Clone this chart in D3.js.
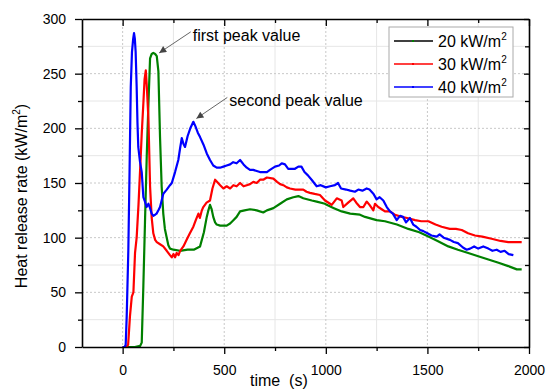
<!DOCTYPE html>
<html>
<head>
<meta charset="utf-8">
<script src="https://cdn.jsdelivr.net/npm/d3@7"></script>
<style>
  body { margin: 0; background: #fff; }
  svg { display: block; font-family: "Liberation Sans", Arial, sans-serif; }
</style>
</head>
<body>
<div id="chart"></div>
<script>
// heat release rate curves, [time (s), HRR (kW/m2)]
const hrr20 = [[0,0],[30,0],[60,0],[86,1],[94,4],[102,56],[110,114],[119,177],[127,223],[135,264],[143,268],[151,269],[160,268],[168,266],[176,252],[184,192],[192,147],[200,122],[208,108],[217,100],[225,93],[233,90],[250,89],[282,88],[320,89],[350,89],[381,92],[400,105],[414,119],[422,125],[430,130],[438,126],[446,119],[455,114],[463,112],[480,111],[496,111],[512,111],[529,113],[545,116],[561,119],[578,124],[600,125],[627,126],[660,125],[692,123],[710,125],[742,127],[775,131],[808,135],[840,137],[865,138],[889,136],[931,134],[955,133],[996,131],[1004,130],[1040,127],[1078,124],[1120,122],[1168,121],[1193,119],[1250,116],[1291,115],[1350,112],[1406,108],[1460,105],[1505,101],[1550,97],[1603,92],[1650,89],[1701,86],[1750,83],[1800,80],[1850,77],[1898,74],[1940,71],[1964,71]];

const hrr30 = [[0,0],[18,0],[27,2],[36,28],[45,46],[53,50],[61,86],[69,100],[78,130],[86,162],[94,195],[102,223],[108,245],[114,253],[120,235],[127,208],[135,147],[143,118],[151,104],[160,98],[168,96],[184,94],[200,92],[217,88],[233,84],[242,82],[250,85],[258,82],[266,86],[275,84],[283,88],[299,92],[315,98],[331,104],[348,110],[360,116],[373,122],[380,118],[390,125],[397,128],[413,132],[430,134],[442,145],[455,153],[470,150],[480,148],[496,145],[512,147],[529,145],[545,148],[561,147],[578,150],[595,147],[611,148],[627,149],[643,151],[660,150],[676,153],[692,153],[710,155],[742,154],[760,151],[775,149],[791,148],[808,146],[824,145],[850,144],[889,144],[905,142],[922,141],[945,140],[971,139],[996,134],[1021,131],[1029,130],[1054,136],[1078,134],[1086,128],[1110,132],[1135,136],[1150,132],[1168,128],[1185,128],[1201,133],[1215,130],[1234,125],[1242,131],[1258,128],[1275,126],[1291,124],[1315,124],[1340,121],[1373,119],[1400,118],[1439,116],[1470,115],[1505,115],[1540,112],[1570,110],[1610,108],[1640,108],[1669,107],[1700,104],[1734,102],[1770,101],[1816,99],[1860,97],[1898,96],[1930,96],[1964,96]];

const hrr40 = [[0,0],[10,0],[15,2],[20,28],[28,88],[34,160],[40,238],[46,270],[52,282],[56,287],[60,282],[64,270],[69,238],[73,205],[77,183],[85,170],[94,160],[102,137],[110,133],[118,128],[127,131],[135,127],[143,122],[151,120],[160,121],[167,122],[176,125],[184,128],[192,134],[200,140],[217,144],[233,148],[242,150],[258,160],[274,171],[283,182],[291,191],[299,186],[307,183],[320,193],[333,200],[348,206],[358,202],[370,196],[381,192],[398,185],[414,177],[430,171],[446,166],[463,164],[479,164],[496,165],[512,166],[529,167],[544,169],[561,168],[578,171],[595,167],[611,164],[627,162],[643,162],[660,161],[676,160],[692,160],[710,160],[725,162],[750,165],[770,166],[783,168],[799,167],[815,163],[832,163],[848,163],[865,165],[880,165],[895,160],[912,157],[930,153],[955,147],[975,148],[1000,146],[1021,147],[1045,148],[1060,150],[1075,145],[1100,144],[1120,143],[1143,142],[1160,144],[1180,143],[1201,145],[1215,144],[1235,140],[1250,135],[1265,137],[1283,134],[1300,128],[1316,124],[1330,122],[1349,116],[1365,120],[1380,119],[1395,114],[1414,118],[1430,112],[1446,110],[1464,107],[1480,106],[1500,104],[1520,102],[1546,101],[1560,103],[1580,100],[1611,98],[1630,96],[1650,95],[1675,91],[1693,89],[1710,90],[1730,92],[1750,90],[1775,92],[1800,90],[1820,88],[1841,89],[1860,87],[1880,88],[1900,85],[1923,84]];

const seriesLabels = ["20", "30", "40"];
const seriesColors = ["#008000", "#ff0000", "#0000ff"];
const legendLineColors = ["#000000", "#ff0000", "#0000ff"];

const xTicks = [0, 500, 1000, 1500, 2000];
const yTicks = [0, 50, 100, 150, 200, 250, 300];

// annotation anchors in data units
const annotations = [
  { text: "first peak value", from: [345, 280], to: [180, 269] },
  { text: "second peak value", from: [525, 220], to: [363, 209] }
];

const width = 550, height = 389;
const margin = { top: 19, right: 21, bottom: 42, left: 82 };
const w = width - margin.left - margin.right;
const h = height - margin.top - margin.bottom;

const svg = d3.select('#chart').append('svg')
  .attr('width', width)
  .attr('height', height);

const g = svg.append('g').attr('transform', `translate(${margin.left},${margin.top})`);

const x = d3.scaleLinear().domain([-200, 2000]).range([0, w]);
const y = d3.scaleLinear().domain([0, 300]).range([h, 0]);

const xMinor = d3.range(-250, 2001, 250).filter(d => d > -200 && xTicks.indexOf(d) < 0);
const yMinor = d3.range(25, 300, 50);

// grid: minor solid and faint, major dotted
g.append('g').selectAll('line.xm').data(xMinor).enter().append('line')
  .attr('x1', d => x(d)).attr('x2', d => x(d)).attr('y1', 0).attr('y2', h)
  .attr('stroke', '#e6e6e6').attr('stroke-width', 1);
g.append('g').selectAll('line.ym').data(yMinor).enter().append('line')
  .attr('x1', 0).attr('x2', w).attr('y1', d => y(d)).attr('y2', d => y(d))
  .attr('stroke', '#e6e6e6').attr('stroke-width', 1);
g.append('g').selectAll('line.xg').data(xTicks.filter(d => d < 2000)).enter().append('line')
  .attr('x1', d => x(d)).attr('x2', d => x(d)).attr('y1', 0).attr('y2', h)
  .attr('stroke', '#c8c8c8').attr('stroke-width', 1).attr('stroke-dasharray', '2,2');
g.append('g').selectAll('line.yg').data(yTicks.filter(d => d > 0 && d < 300)).enter().append('line')
  .attr('x1', 0).attr('x2', w).attr('y1', d => y(d)).attr('y2', d => y(d))
  .attr('stroke', '#c8c8c8').attr('stroke-width', 1).attr('stroke-dasharray', '2,2');

// curves
const line = d3.line().x(d => x(d[0])).y(d => y(d[1]));
[hrr20, hrr30, hrr40].forEach((data, i) => {
  g.append('path')
    .datum(data)
    .attr('d', line)
    .attr('fill', 'none')
    .attr('stroke', seriesColors[i])
    .attr('stroke-width', 2.2)
    .attr('stroke-linejoin', 'round');
});

// axes
const allX = d3.range(-250, 2001, 250).filter(d => d > -200);
const allY = d3.range(0, 301, 25);
const styleAxis = sel => {
  sel.select('.domain').attr('stroke', '#000').attr('stroke-width', 1.6);
  sel.selectAll('.tick line').attr('stroke', '#000').attr('stroke-width', 1.3);
  sel.selectAll('text').attr('font-size', 14).attr('fill', '#000')
    .attr('font-family', '"Liberation Sans", Arial, sans-serif');
};
const tickLen = (d, list, major, minor) => list.indexOf(d) >= 0 ? major : minor;

const xBottom = g.append('g').attr('transform', `translate(0,${h})`)
  .call(d3.axisBottom(x).tickValues(allX).tickSizeOuter(0)
    .tickFormat(d => xTicks.indexOf(d) >= 0 ? d : '').tickPadding(12));
xBottom.selectAll('.tick line').attr('y2', d => tickLen(d, xTicks, 7, 4));
styleAxis(xBottom);

const xTop = g.append('g')
  .call(d3.axisTop(x).tickValues(allX).tickSizeOuter(0).tickFormat(''));
xTop.selectAll('.tick line').attr('y2', d => tickLen(d, xTicks, 7, 4));
styleAxis(xTop);

const yLeft = g.append('g')
  .call(d3.axisLeft(y).tickValues(allY).tickSizeOuter(0)
    .tickFormat(d => yTicks.indexOf(d) >= 0 ? d : '').tickPadding(10));
yLeft.selectAll('.tick line').attr('x2', d => -tickLen(d, yTicks, 7, 4));
styleAxis(yLeft);

const yRight = g.append('g').attr('transform', `translate(${w},0)`)
  .call(d3.axisRight(y).tickValues(allY).tickSizeOuter(0).tickFormat(''));
yRight.selectAll('.tick line').attr('x2', d => -tickLen(d, yTicks, 5, 4));
styleAxis(yRight);

// axis titles
svg.append('text')
  .attr('x', 250).attr('y', 386)
  .attr('font-size', 16)
  .style('white-space', 'pre')
  .text('time  (s)');

const yTitle = svg.append('text')
  .attr('transform', 'translate(27,196) rotate(-90)')
  .attr('text-anchor', 'middle')
  .attr('font-size', 16);
yTitle.append('tspan').text('Heat release rate (kW/m');
yTitle.append('tspan').attr('font-size', 10).attr('dy', -7).text('2');
yTitle.append('tspan').attr('dy', 7).text(')');

// annotations with arrows
svg.append('defs').append('marker')
  .attr('id', 'arrow')
  .attr('viewBox', '0 0 10 10')
  .attr('refX', 10).attr('refY', 5)
  .attr('markerWidth', 9).attr('markerHeight', 7)
  .attr('markerUnits', 'userSpaceOnUse')
  .attr('orient', 'auto')
  .append('path').attr('d', 'M0,0 L10,5 L0,10 Z').attr('fill', '#444');

annotations.forEach(a => {
  g.append('line')
    .attr('x1', x(a.from[0]) - 2).attr('y1', y(a.from[1]) - 9)
    .attr('x2', x(a.to[0])).attr('y2', y(a.to[1]))
    .attr('stroke', '#666').attr('stroke-width', 1)
    .attr('marker-end', 'url(#arrow)');
  g.append('text')
    .attr('x', x(a.from[0])).attr('y', y(a.from[1]))
    .attr('font-size', 16)
    .text(a.text);
});

// legend
const legend = svg.append('g').attr('transform', 'translate(389,27)');
legend.append('rect')
  .attr('width', 124).attr('height', 70)
  .attr('fill', '#fff').attr('stroke', '#aaa').attr('stroke-width', 1);
const legendY = [14, 37, 60];
seriesLabels.forEach((lab, i) => {
  const row = legend.append('g').attr('transform', `translate(0,${legendY[i]})`);
  row.append('line').attr('x1', 5).attr('x2', 44)
    .attr('stroke', legendLineColors[i]).attr('stroke-width', 1.5);
  row.append('rect').attr('x', 23).attr('y', -1).attr('width', 2).attr('height', 2)
    .attr('fill', seriesColors[i]);
  const t = row.append('text').attr('x', 49).attr('y', 6).attr('font-size', 16);
  t.append('tspan').text(`${lab} kW/m`);
  t.append('tspan').attr('font-size', 10).attr('dy', -7).text('2');
});
</script>
</body>
</html>
